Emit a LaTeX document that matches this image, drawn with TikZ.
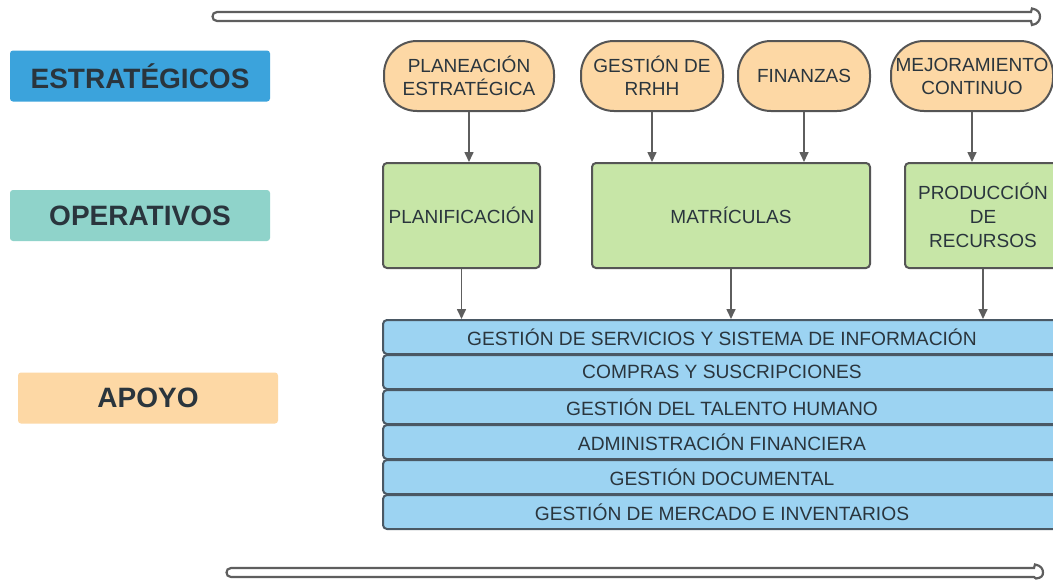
\documentclass[tikz,border=0pt]{standalone}
\usepackage{fontspec}
\setmainfont{Liberation Sans}
\usetikzlibrary{arrows.meta}
\definecolor{lblblue}{HTML}{3BA3DC}
\definecolor{lblteal}{HTML}{8FD3CA}
\definecolor{peach}{HTML}{FDD8A5}
\definecolor{greenbox}{HTML}{C7E6A7}
\definecolor{supblue}{HTML}{9CD3F2}
\definecolor{edgegray}{HTML}{555555}
\definecolor{supedge}{HTML}{4A5864}
\definecolor{txt}{HTML}{2A353D}
\definecolor{arrgray}{HTML}{5E5E5E}
\tikzset{
  lbl/.style={rounded corners=3pt, inner sep=0pt, minimum width=260pt, minimum height=51pt,
    text=txt, font=\fontsize{28}{30}\selectfont\bfseries},
  strat/.style={draw=edgegray, line width=2pt, fill=peach, rounded corners=33pt, inner sep=0pt,
    minimum height=70pt, align=center, text=txt, font=\fontsize{19}{23}\selectfont},
  oper/.style={draw=edgegray, line width=2pt, fill=greenbox, rounded corners=4pt, inner sep=0pt,
    minimum height=105pt, align=center, text=txt, font=\fontsize{19}{24}\selectfont},
  sup/.style={draw=supedge, line width=2pt, fill=supblue, rounded corners=4pt, inner sep=0pt,
    minimum width=678pt, minimum height=34pt, text=txt, font=\fontsize{19.2}{22}\selectfont},
  conn/.style={draw=arrgray, line width=1.6pt, -{Triangle[length=10pt,width=9pt]}},
  procarrow/.style={draw=arrgray, line width=2.2pt, fill=white}
}
\begin{document}
\begin{tikzpicture}[x=1pt, y=-1pt]
\useasboundingbox[fill=white] (0,0) rectangle (1053,579);

% process arrows
\draw[procarrow] (217,12) -- (1031,12) -- (1032,8.5)
  .. controls (1038,9.5) and (1040,13) .. (1040,16.5)
  .. controls (1040,20) and (1038,24) .. (1032,25) -- (1031,21) -- (217,21)
  .. controls (211,21) and (211,12) .. (217,12) -- cycle;
\draw[procarrow] (231,568) -- (1034,568) -- (1035,564.5)
  .. controls (1041,565.5) and (1043,569) .. (1043,572.5)
  .. controls (1043,576) and (1041,578) .. (1036,578.5) -- (1034,577) -- (231,577)
  .. controls (225,577) and (225,568) .. (231,568) -- cycle;

% left labels
\node[lbl, fill=lblblue] (lest) at (140,76) {ESTRATÉGICOS};
\node[lbl, fill=lblteal] (lope) at (140,215.5) {OPERATIVOS};
\node[lbl, fill=peach] (lapo) at (148,398) {APOYO};

% strategic
\node[strat, minimum width=170pt] (plan) at (469,76) {PLANEACIÓN\\ESTRATÉGICA};
\node[strat, minimum width=142pt] (rrhh) at (652,76) {GESTIÓN DE\\RRHH};
\node[strat, minimum width=132pt] (fin) at (804,76) {FINANZAS};
\node[strat, minimum width=162pt] (mej) at (972,76) {MEJORAMIENTO\\CONTINUO};

% operative
\node[oper, minimum width=157pt] (plnf) at (461.5,215.5) {PLANIFICACIÓN};
\node[oper, minimum width=278pt] (matr) at (731,215.5) {MATRÍCULAS};
\node[oper, minimum width=156pt] (prod) at (983,215.5) {PRODUCCIÓN\\DE\\RECURSOS};

% support
\node[sup] (s1) at (722,337) {GESTIÓN DE SERVICIOS Y SISTEMA DE INFORMACIÓN};
\node[sup] (s2) at (722,372) {COMPRAS Y SUSCRIPCIONES};
\node[sup] (s3) at (722,407) {GESTIÓN DEL TALENTO HUMANO};
\node[sup] (s4) at (722,442) {ADMINISTRACIÓN FINANCIERA};
\node[sup] (s5) at (722,477) {GESTIÓN DOCUMENTAL};
\node[sup] (s6) at (722,512) {GESTIÓN DE MERCADO E INVENTARIOS};

% connectors
\draw[conn] (plan.south) -- (plan.south |- plnf.north);
\draw[conn] (rrhh.south) -- (rrhh.south |- matr.north);
\draw[conn] (fin.south) -- (fin.south |- matr.north);
\draw[conn] (mej.south) -- (mej.south |- prod.north);
\draw[conn] (plnf.south) -- (plnf.south |- s1.north);
\draw[conn] (matr.south) -- (matr.south |- s1.north);
\draw[conn] (prod.south) -- (prod.south |- s1.north);
\end{tikzpicture}
\end{document}
